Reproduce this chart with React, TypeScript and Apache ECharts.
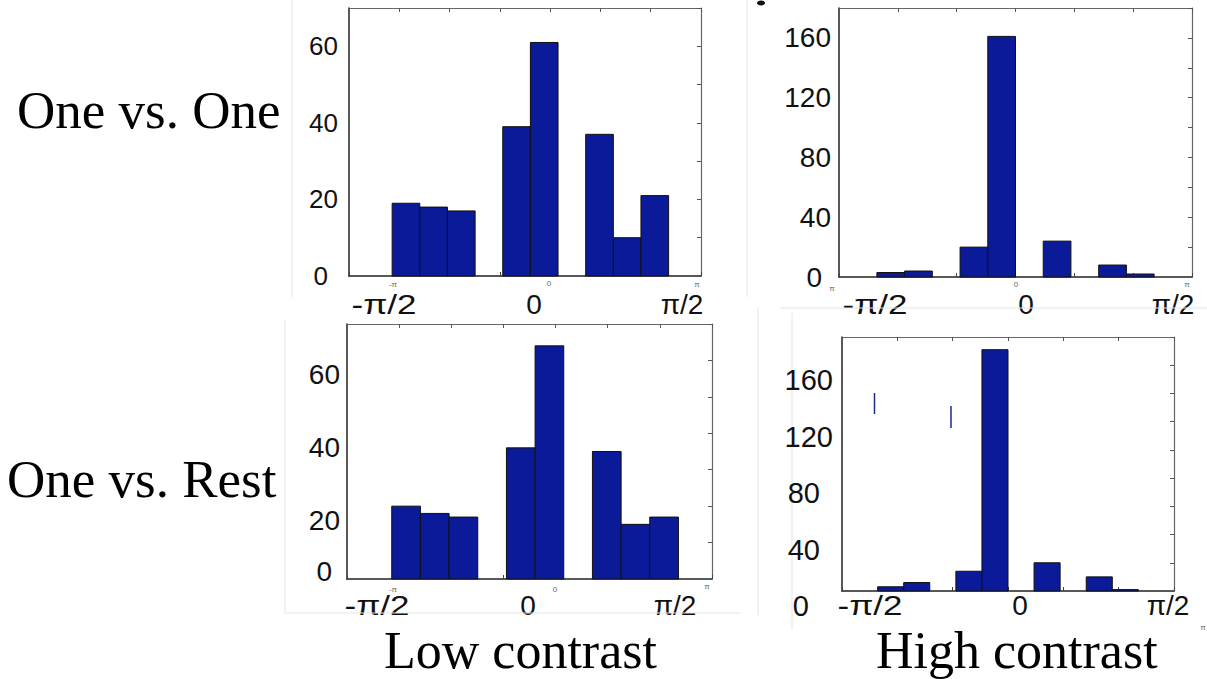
import React, { useEffect, useRef } from 'react';
import * as echarts from 'echarts';

// ---- data ----
const BIN_EDGES_LOW = [-3.142, -2.592, -2.042, -1.492, -0.942, -0.393, 0.157, 0.707, 1.257, 1.806, 2.356];
const BIN_EDGES_HIGH = [-2.356, -1.885, -1.414, -0.942, -0.471, 0.0, 0.471, 0.942, 1.414, 1.885, 2.356];
const ONE_VS_ONE_LOW = [19, 18, 17, 0, 39, 61, 0, 37, 10, 21];
const ONE_VS_ONE_HIGH = [3, 4, 0, 20, 161, 0, 24, 0, 8, 2];
const ONE_VS_REST_LOW = [20, 18, 17, 0, 36, 64, 0, 35, 15, 17];
const ONE_VS_REST_HIGH = [3, 6, 0, 14, 171, 0, 20, 0, 10, 1];
const ROW_LABELS = ['One vs. One', 'One vs. Rest'];
const COLUMN_LABELS = ['Low contrast', 'High contrast'];
const X_TICK_LABELS = ['-π/2', '0', 'π/2'];
const SMALL_TICK_LABELS = ['-π', '0', 'π'];

const BAR_COLOR = '#0a1a98';
const SANS = '"Liberation Sans", Arial, Helvetica, sans-serif';
const SERIF = '"Liberation Serif", "Times New Roman", serif';

type Panel = {
  edges: number[];
  counts: number[];
  grid: { left: number; top: number; width: number; height: number };
  xMin: number; xMax: number;
  yMax: number; yInterval: number; labelEvery: number;
  fontSize: number; margin: number;
  rich: Record<string, any>;
  pick: (v: number) => string;
  bigLabels: { x: number; y: number }[];
  small: { t: string; x: number; y: number }[];
};

const panels: Panel[] = [
  {
    edges: BIN_EDGES_LOW, counts: ONE_VS_ONE_LOW,
    grid: { left: 349, top: 8, width: 352, height: 268 },
    xMin: -4, xMax: 3, yMax: 70, yInterval: 10, labelEvery: 20,
    fontSize: 26, margin: 11,
    rich: { n: {}, z: { padding: [0, 10, 0, 0] } },
    pick: (v) => (v === 0 ? 'z' : 'n'),
    bigLabels: [{ x: 384, y: 304 }, { x: 534, y: 304 }, { x: 682, y: 304 }],
    small: [{ t: SMALL_TICK_LABELS[0], x: 393, y: 284 }, { t: SMALL_TICK_LABELS[1], x: 549, y: 283 }, { t: SMALL_TICK_LABELS[2], x: 697, y: 284 }],
  },
  {
    edges: BIN_EDGES_HIGH, counts: ONE_VS_ONE_HIGH,
    grid: { left: 839, top: 8, width: 353, height: 269 },
    xMin: -3, xMax: 3, yMax: 180, yInterval: 20, labelEvery: 40,
    fontSize: 28, margin: 8,
    rich: { n: {}, z: { padding: [0, 9, 0, 0] } },
    pick: (v) => (v === 0 ? 'z' : 'n'),
    bigLabels: [{ x: 875, y: 304 }, { x: 1026, y: 304 }, { x: 1173, y: 304 }],
    small: [{ t: 'π', x: 832, y: 288 }, { t: SMALL_TICK_LABELS[1], x: 1016, y: 284 }, { t: SMALL_TICK_LABELS[2], x: 1187, y: 284 }],
  },
  {
    edges: BIN_EDGES_LOW, counts: ONE_VS_REST_LOW,
    grid: { left: 347, top: 324, width: 365, height: 255 },
    xMin: -4, xMax: 3, yMax: 70, yInterval: 10, labelEvery: 20,
    fontSize: 28, margin: 7,
    rich: { n: { padding: [28, 0, 0, 0] }, z: { padding: [0, 8, 16, 0] } },
    pick: (v) => (v === 0 ? 'z' : 'n'),
    bigLabels: [{ x: 377, y: 605 }, { x: 528, y: 605 }, { x: 675, y: 605 }],
    small: [{ t: SMALL_TICK_LABELS[0], x: 393, y: 589 }, { t: SMALL_TICK_LABELS[1], x: 555, y: 589 }, { t: SMALL_TICK_LABELS[2], x: 707, y: 586 }],
  },
  {
    edges: BIN_EDGES_HIGH, counts: ONE_VS_REST_HIGH,
    grid: { left: 842, top: 337, width: 332, height: 254 },
    xMin: -3, xMax: 3, yMax: 180, yInterval: 20, labelEvery: 40,
    fontSize: 29, margin: 9,
    rich: { a: { padding: [30, 0, 0, 0] }, b: { padding: [30, 13, 0, 0] }, z: { padding: [30, 24, 0, 0] } },
    pick: (v) => (v === 0 ? 'z' : v < 100 ? 'b' : 'a'),
    bigLabels: [{ x: 870, y: 605 }, { x: 1020, y: 605 }, { x: 1168, y: 605 }],
    small: [{ t: 'π', x: 1203, y: 627 }],
  },
];

export default function App() {
  const ref = useRef<HTMLDivElement>(null);

  useEffect(() => {
    if (!ref.current) return;
    const chart = echarts.init(ref.current, undefined, { renderer: 'svg' });

    const grids: any[] = [];
    const xAxes: any[] = [];
    const yAxes: any[] = [];
    const series: any[] = [];
    const graphic: any[] = [];

    panels.forEach((p, i) => {
      grids.push({ ...p.grid, containLabel: false });
      const xBase = {
        type: 'value', gridIndex: i, min: p.xMin, max: p.xMax, interval: 1,
        splitLine: { show: false }, axisLabel: { show: false },
      };
      xAxes.push({
        ...xBase, position: 'bottom',
        axisLine: { show: true, onZero: false, lineStyle: { color: '#222', width: 1.5 } },
        axisTick: { show: true, inside: true, length: 4, lineStyle: { color: '#444' } },
      });
      xAxes.push({
        ...xBase, position: 'top',
        axisLine: { show: true, onZero: false, lineStyle: { color: '#666', width: 1.2 } },
        axisTick: { show: true, inside: true, length: 4, lineStyle: { color: '#555' } },
      });
      const yBase = {
        type: 'value', gridIndex: i, min: 0, max: p.yMax, interval: p.yInterval,
        splitLine: { show: false },
      };
      yAxes.push({
        ...yBase, position: 'left',
        axisLine: { show: true, onZero: false, lineStyle: { color: '#222', width: 1.5 } },
        axisTick: { show: false },
        axisLabel: {
          show: true, margin: p.margin, fontSize: p.fontSize, fontFamily: SANS, color: '#111',
          formatter: (v: number) => (v % p.labelEvery === 0 && v < p.yMax ? `{${p.pick(v)}|${v}}` : ''),
          rich: p.rich,
        },
      });
      yAxes.push({
        ...yBase, position: 'right',
        axisLine: { show: true, onZero: false, lineStyle: { color: '#666', width: 1.2 } },
        axisTick: { show: true, inside: true, length: 4, lineStyle: { color: '#555' } },
        axisLabel: { show: false },
      });

      const data = p.counts.map((c, k) => [p.edges[k], p.edges[k + 1], c]);
      series.push({
        type: 'custom',
        xAxisIndex: i * 2,
        yAxisIndex: i * 2,
        encode: { x: [0, 1], y: 2 },
        data,
        renderItem: (params: any, api: any) => {
          const lo = api.value(0);
          const hi = api.value(1);
          const v = api.value(2);
          if (!v) return { type: 'group', children: [] };
          const p0 = api.coord([lo, v]);
          const p1 = api.coord([hi, 0]);
          return {
            type: 'rect',
            shape: { x: p0[0], y: p0[1], width: p1[0] - p0[0], height: p1[1] - p0[1] },
            style: { fill: BAR_COLOR, stroke: '#111', lineWidth: 1 },
          };
        },
      });

      p.bigLabels.forEach((b, k) => {
        graphic.push({
          type: 'text', x: b.x, y: b.y,
          scaleX: k === 0 ? 1.25 : 1,
          style: { text: X_TICK_LABELS[k], fontSize: 28, lineHeight: 20, fontFamily: SANS, fill: '#111', align: 'center', verticalAlign: 'middle' },
        });
      });
      p.small.forEach((s) => {
        graphic.push({
          type: 'text', x: s.x, y: s.y,
          style: { text: s.t, fontSize: 8, lineHeight: 6, fontFamily: SANS, fill: '#666', align: 'center', verticalAlign: 'middle' },
        });
      });
    });

    // row / column captions
    const caption = (text: string, x: number, y: number, size: number) =>
      graphic.push({ type: 'text', x, y, style: { text, fontSize: size, lineHeight: 36, fontFamily: SERIF, fill: '#000', align: 'left', verticalAlign: 'middle' } });
    caption(ROW_LABELS[0], 17, 110, 53);
    caption(ROW_LABELS[1], 7, 479, 53);
    caption(COLUMN_LABELS[0], 384, 650, 52);
    caption(COLUMN_LABELS[1], 876, 650, 52);

    // faint borders of the pasted sub-images
    const frame = (x1: number, y1: number, x2: number, y2: number) =>
      graphic.push({ type: 'line', shape: { x1, y1, x2, y2 }, style: { stroke: '#e4e4e4', lineWidth: 1 } });
    frame(292, 0, 292, 297);
    frame(747, 0, 747, 297);
    frame(780, 308, 1207, 308);
    frame(758, 307, 758, 615);
    frame(792, 313, 792, 630);
    frame(285, 320, 285, 613);
    frame(285, 613, 740, 613);

    // stray marks in the reference
    graphic.push({ type: 'ellipse', shape: { cx: 761, cy: 3, rx: 4, ry: 2.5 }, style: { fill: '#111' } });
    graphic.push({ type: 'line', shape: { x1: 874.5, y1: 393, x2: 874.5, y2: 414 }, style: { stroke: '#1a2a8c', lineWidth: 1.5 } });
    graphic.push({ type: 'line', shape: { x1: 951, y1: 406, x2: 951, y2: 428 }, style: { stroke: '#1a2a8c', lineWidth: 1.5 } });

    chart.setOption({
      animation: false,
      backgroundColor: '#ffffff',
      grid: grids,
      xAxis: xAxes,
      yAxis: yAxes,
      series,
      graphic,
    });

    return () => chart.dispose();
  }, []);

  return (
    <div
      ref={ref}
      style={{ position: 'absolute', left: 0, top: 0, width: 1207, height: 679, background: '#fff' }}
    />
  );
}
